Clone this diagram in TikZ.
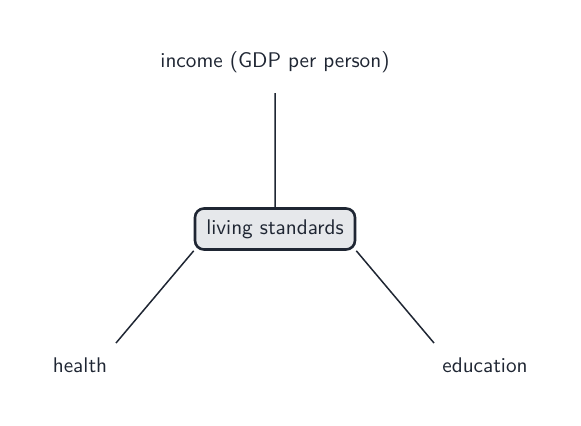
\documentclass[tikz,border=0pt]{standalone}
\usepackage{tikz}
\usetikzlibrary{positioning}
\definecolor{ink}{HTML}{1F2633}
\definecolor{boxfill}{HTML}{E6E8EB}

\begin{document}
\begin{tikzpicture}[x=0.5pt,y=-0.5pt,every node/.append style={align=center,text=ink,font=\sffamily\fontsize{10.6}{13}\selectfont},
    hub/.style={draw=ink, fill=boxfill, line width=1.3pt, rounded corners=4.5pt, minimum width=80pt, minimum height=20.5pt, inner sep=0pt},
    lbl/.style={inner sep=0pt},
    link/.style={draw=ink, line width=0.75pt}]
    \useasboundingbox (0,0) rectangle (581,425);
    \node [hub] (LS) at (275,229) {living standards};
    \node [lbl] (INC) at (275,62) {income (GDP per person)};
    \node [lbl] (H) at (80,365) {health};
    \node [lbl] (EDU) at (485,365) {education};

    \coordinate (inc_end) at (275,93);
    \coordinate (h_end) at (116,343);
    \coordinate (edu_end) at (434,343);

    \path[link] (LS.north) -- (inc_end)
                (LS.south west) -- (h_end)
                (LS.south east) -- (edu_end);
\end{tikzpicture}
\end{document}
